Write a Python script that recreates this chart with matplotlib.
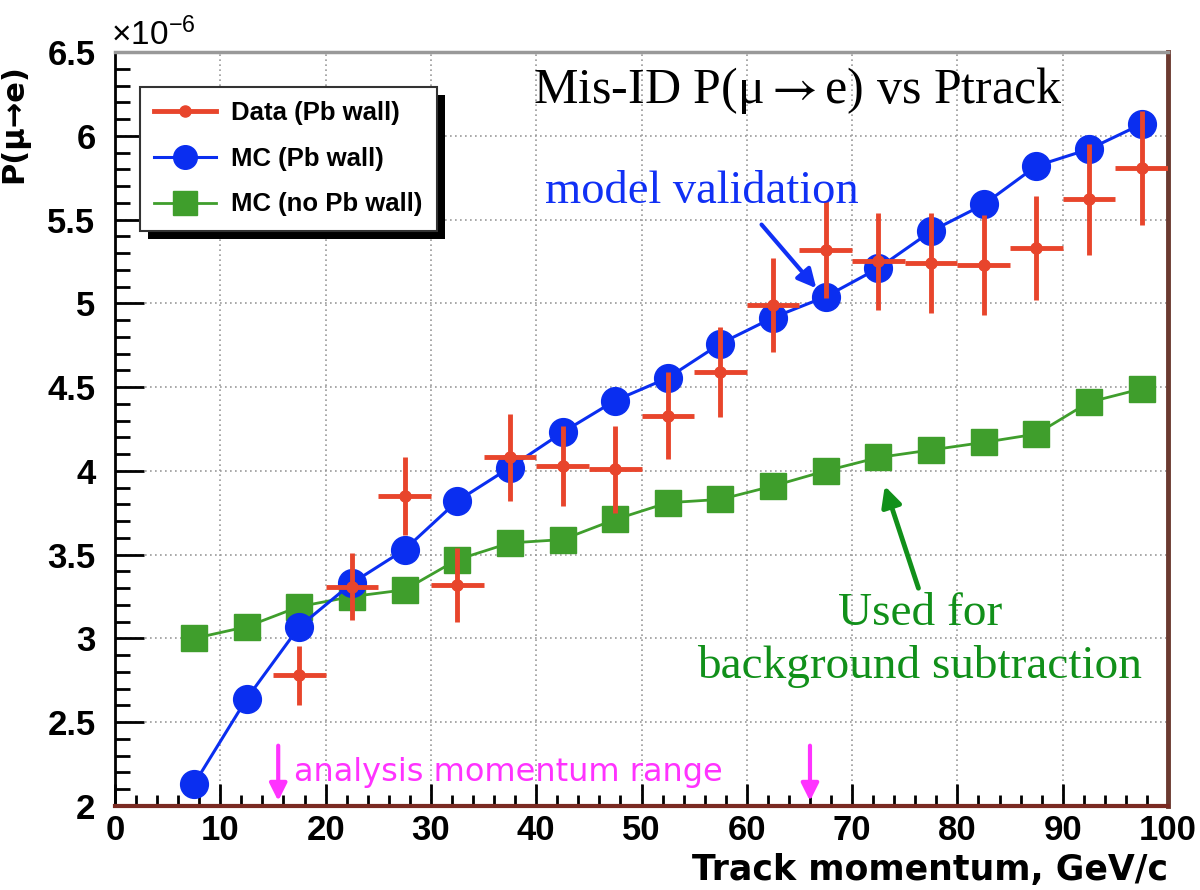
import numpy as np
import matplotlib
matplotlib.use('Agg')
import matplotlib.pyplot as plt
from matplotlib.ticker import MultipleLocator, FuncFormatter
from matplotlib.patches import Rectangle
from matplotlib.lines import Line2D
from matplotlib.transforms import IdentityTransform

plt.rcParams['mathtext.fontset'] = 'stix'

# momentum bin centres, GeV/c
p_bins = [7.5, 12.5, 17.5, 22.5, 27.5, 32.5, 37.5, 42.5, 47.5, 52.5,
          57.5, 62.5, 67.5, 72.5, 77.5, 82.5, 87.5, 92.5, 97.5]
bin_halfwidth = 2.5

# MC with Pb wall (x 1e-6)
mc_pb = [2.13, 2.64, 3.07, 3.33, 3.53, 3.82, 4.02, 4.23, 4.42, 4.555,
         4.76, 4.915, 5.04, 5.21, 5.43, 5.59, 5.82, 5.92, 6.07]

# MC without Pb wall (x 1e-6)
mc_nopb = [3.00, 3.07, 3.19, 3.25, 3.29, 3.47, 3.57, 3.59, 3.71, 3.81,
           3.83, 3.91, 4.00, 4.08, 4.125, 4.17, 4.22, 4.41, 4.49]

# data with Pb wall, starts at the third bin
data_p = p_bins[2:]
data_pb = [2.78, 3.31, 3.85, 3.32, 4.08, 4.03, 4.01, 4.33, 4.59, 4.99,
           5.32, 5.25, 5.24, 5.23, 5.33, 5.62, 5.81]
data_err = [0.175, 0.20, 0.23, 0.22, 0.26, 0.24, 0.26, 0.26, 0.27, 0.28,
            0.29, 0.29, 0.30, 0.30, 0.31, 0.33, 0.34]

sans = ['Liberation Sans', 'DejaVu Sans']
serif = ['Liberation Serif', 'DejaVu Serif']

fig = plt.figure(figsize=(12, 8.9), dpi=100)
ax = fig.add_axes([115 / 1200, 1 - 806 / 890, 1053 / 1200, 754 / 890])

c_red = '#e8452c'
c_blue = '#0a2ef0'
c_green = '#3f9e2c'

ax.plot(p_bins, mc_nopb, color=c_green, lw=2, marker='s', ms=19, zorder=3)
ax.plot(p_bins, mc_pb, color=c_blue, lw=2.2, marker='o', ms=20, zorder=3.5)
ax.errorbar(data_p, data_pb, xerr=bin_halfwidth, yerr=data_err, fmt='o',
            color=c_red, ms=8, elinewidth=3.5, capsize=0, zorder=4)

ax.set_xlim(0, 100)
ax.set_ylim(2, 6.5)
ax.xaxis.set_major_locator(MultipleLocator(10))
ax.xaxis.set_minor_locator(MultipleLocator(2))
ax.yaxis.set_major_locator(MultipleLocator(0.5))
ax.yaxis.set_minor_locator(MultipleLocator(0.1))
ax.yaxis.set_major_formatter(FuncFormatter(lambda v, pos: '%g' % v))

ax.tick_params(axis='y', which='major', direction='in', length=21, width=2, pad=14)
ax.tick_params(axis='y', which='minor', direction='in', length=11, width=2)
ax.tick_params(axis='x', which='major', direction='in', length=16, width=2, pad=6)
ax.tick_params(axis='x', which='minor', direction='in', length=8, width=2)
for lab in ax.get_xticklabels() + ax.get_yticklabels():
    lab.set_family(sans)
    lab.set_fontsize(25)
    lab.set_fontweight('bold')

ax.grid(True, which='major', color='#9a9a9a', lw=1.2, linestyle=(0, (1, 2)))

ax.spines['left'].set_color('black')
ax.spines['left'].set_linewidth(2)
ax.spines['top'].set_color('#999999')
ax.spines['top'].set_linewidth(2.5)
ax.spines['bottom'].set_color('#7a2a22')
ax.spines['bottom'].set_linewidth(3)
ax.spines['right'].set_color('#6b3a30')
ax.spines['right'].set_linewidth(3.5)

ax.set_xlabel('Track momentum, GeV/c', family=['DejaVu Sans'], fontsize=25,
              fontweight='bold', loc='right', labelpad=4)
ax.set_ylabel('P(μ→e)', family=['DejaVu Sans'], fontsize=22, fontweight='bold')
ax.yaxis.set_label_coords(-0.081, 0.905)
fig.text(111 / 1200, 1 - 44 / 890, '×10$^{\\mathregular{-6}}$', family=sans,
         fontsize=24, va='baseline', ha='left')

# legend with a hard black shadow, ROOT style
handles = [Line2D([], [], color=c_red, lw=3.5, marker='o', ms=8),
           Line2D([], [], color=c_blue, lw=2.2, marker='o', ms=17),
           Line2D([], [], color=c_green, lw=2, marker='s', ms=17)]
labels = ['Data (Pb wall)', 'MC (Pb wall)', 'MC (no Pb wall)']
leg = ax.legend(handles, labels,
                loc='upper left', bbox_to_anchor=(0.024, 0.954),
                borderaxespad=0, fancybox=False, framealpha=1,
                edgecolor='#333333', prop={'family': sans, 'size': 18.5, 'weight': 'bold'},
                handlelength=2.4, labelspacing=0.85, borderpad=0.55,
                handletextpad=0.6)
leg.get_frame().set_linewidth(1.5)
leg.set_zorder(6)
fig.canvas.draw()
bb = leg.get_frame().get_window_extent()
shadow = Rectangle((bb.x0 + 8, bb.y0 - 8), bb.width, bb.height,
                   transform=IdentityTransform(), facecolor='black',
                   edgecolor='none', clip_on=False, zorder=5.9)
ax.add_patch(shadow)

# annotations
fig.text(533 / 1200, 1 - 103 / 890, 'Mis-ID P(μ$\\rightarrow$e) vs Ptrack', family=serif,
         fontsize=36, va='baseline', ha='left', color='black')
fig.text(545 / 1200, 1 - 203 / 890, 'model validation', family=serif,
         fontsize=33.5, va='baseline', ha='left', color='#1030f5')
ax.annotate('', xy=(66.6, 5.09), xytext=(61.4, 5.47),
            arrowprops=dict(arrowstyle='-|>', color='#1030f5', lw=3,
                            mutation_scale=28, shrinkA=0, shrinkB=0))

fig.text(920 / 1200, 1 - 625 / 890, 'Used for', family=serif,
         fontsize=34, va='baseline', ha='center', color='#11901a')
fig.text(920 / 1200, 1 - 678 / 890, 'background subtraction', family=serif,
         fontsize=34, va='baseline', ha='center', color='#11901a')
ax.annotate('', xy=(73.1, 3.91), xytext=(76.3, 3.30),
            arrowprops=dict(arrowstyle='-|>', color='#11901a', lw=3.5,
                            mutation_scale=30, shrinkA=0, shrinkB=0))

c_mag = '#ff33ff'
for xm in [15.5, 66.0]:
    ax.annotate('', xy=(xm, 2.03), xytext=(xm, 2.36),
                arrowprops=dict(arrowstyle='-|>', color=c_mag, lw=3,
                                mutation_scale=26, shrinkA=0, shrinkB=0))
ax.text(17.0, 2.15, 'analysis momentum range', family=['DejaVu Sans'],
        fontsize=23, color=c_mag, va='baseline', ha='left')

fig.savefig('out.png', dpi=100)
